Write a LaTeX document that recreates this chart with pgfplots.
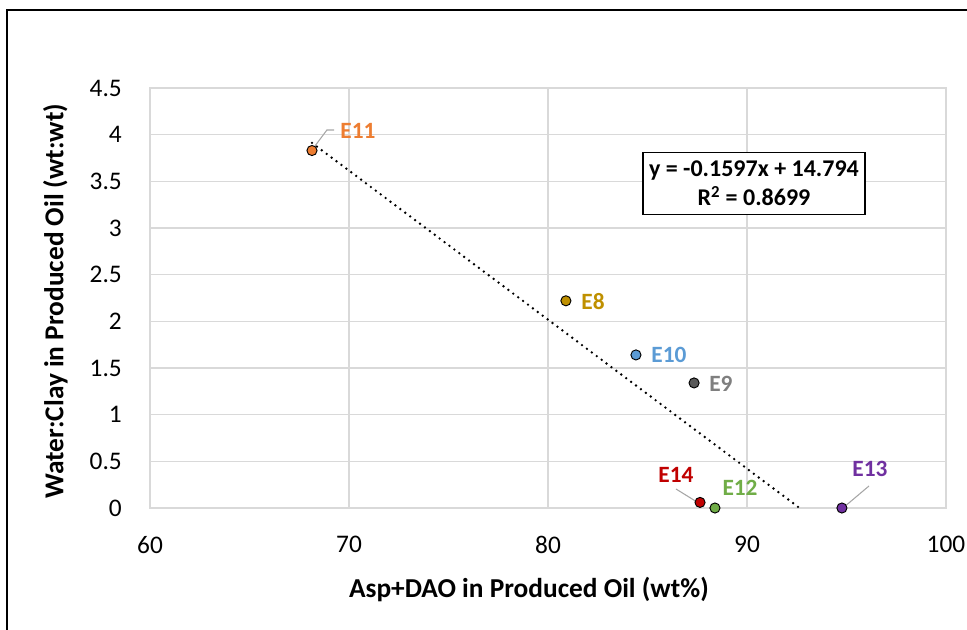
\documentclass[border=0pt]{standalone}
\usepackage{pgfplots}
\pgfplotsset{compat=1.18}
\usepackage{fontspec}
\setmainfont{Carlito}

\definecolor{gridgray}{HTML}{D9D9D9}
\definecolor{leadergray}{HTML}{A6A6A6}
\definecolor{cE11}{HTML}{ED7D31}
\definecolor{cE8}{HTML}{BF9000}
\definecolor{cE10}{HTML}{5B9BD5}
\definecolor{cE9}{HTML}{7F7F7F}
\definecolor{mE9}{HTML}{595959}
\definecolor{cE14}{HTML}{C00000}
\definecolor{cE12}{HTML}{70AD47}
\definecolor{cE13}{HTML}{7030A0}

\begin{document}
\begin{tikzpicture}
\useasboundingbox (-112.5pt,-90.75pt) rectangle (612.75pt,381pt);
% chart area border (left and top edges)
\draw[line width=1.6pt] (-107.25pt,-100pt) -- (-107.25pt,373.5pt) -- (620pt,373.5pt);
\begin{axis}[
  at={(0pt,0pt)}, anchor=south west,
  scale only axis, width=597pt, height=315pt,
  xmin=60, xmax=100, ymin=0, ymax=4.5,
  xtick={60,70,80,90,100},
  ytick={0,0.5,1,1.5,2,2.5,3,3.5,4,4.5},
  major tick length=0pt,
  grid=major,
  major grid style={draw=gridgray, line width=0.8pt},
  axis line style={draw=gridgray, line width=0.8pt},
  /pgf/number format/assume math mode=true,
  tick label style={font=\fontsize{19}{22}\selectfont, inner sep=0pt},
  xticklabel style={anchor=north, yshift=-21pt},
  yticklabel style={anchor=east, xshift=-21pt},
  xlabel={Asp+DAO in Produced Oil (wt\%)},
  ylabel={Water:Clay in Produced Oil (wt:wt)},
  label style={font=\fontsize{20.5}{24}\selectfont\bfseries},
  x label style={at={(axis description cs:0.476,-0.195)}, anchor=center},
  y label style={at={(axis description cs:-0.119,0.493)}, anchor=center, rotate=0},
  clip=false,
]
% linear trendline y = -0.1597x + 14.794, drawn over the data range down to y = 0
\addplot[black, line width=2pt, line cap=round, dash pattern=on 0pt off 4.6pt]
  coordinates {(68.14,3.912) (92.64,0)};

% leader lines
\addplot[leadergray, line width=0.8pt] coordinates {(68.19,3.85) (68.89,4.05) (69.25,4.05)};
\addplot[leadergray, line width=0.8pt] coordinates {(86.43,0.204) (87.49,0.064)};
\addplot[leadergray, line width=0.8pt] coordinates {(96.13,0.236) (94.82,0.0)};

% experiments
\addplot[only marks, mark=*, mark size=3.8pt, mark options={fill=cE11, draw=black, line width=0.7pt}] coordinates {(68.14,3.83)};
\addplot[only marks, mark=*, mark size=3.8pt, mark options={fill=cE8, draw=black, line width=0.7pt}] coordinates {(80.90,2.22)};
\addplot[only marks, mark=*, mark size=3.8pt, mark options={fill=cE10, draw=black, line width=0.7pt}] coordinates {(84.42,1.64)};
\addplot[only marks, mark=*, mark size=3.8pt, mark options={fill=mE9, draw=black, line width=0.7pt}] coordinates {(87.34,1.34)};
\addplot[only marks, mark=*, mark size=3.8pt, mark options={fill=cE14, draw=black, line width=0.7pt}] coordinates {(87.64,0.06)};
\addplot[only marks, mark=*, mark size=3.8pt, mark options={fill=cE12, draw=black, line width=0.7pt}] coordinates {(88.39,0)};
\addplot[only marks, mark=*, mark size=3.8pt, mark options={fill=cE13, draw=black, line width=0.7pt}] coordinates {(94.77,0)};

% point labels
\begin{scope}[every node/.style={font=\fontsize{17.5}{20}\selectfont\bfseries, inner sep=0pt}]
\node[text=cE11] at (axis cs:70.45,4.04) {E11};
\node[text=cE8]  at (axis cs:82.26,2.21) {E8};
\node[text=cE10] at (axis cs:86.08,1.64) {E10};
\node[text=cE9]  at (axis cs:88.69,1.33) {E9};
\node[text=cE14] at (axis cs:86.43,0.354) {E14};
\node[text=cE12] at (axis cs:89.65,0.214) {E12};
\node[text=cE13] at (axis cs:96.18,0.418) {E13};
\end{scope}

% trendline equation
\node[draw=black, line width=0.9pt, fill=white, align=center, inner sep=0pt,
      minimum width=166.5pt, minimum height=46.5pt,
      font=\fontsize{18}{22}\selectfont\bfseries]
  at (axis cs:90.35,3.48) {y = -0.1597x + 14.794\\R\textsuperscript{2} = 0.8699};
\end{axis}
\end{tikzpicture}
\end{document}
